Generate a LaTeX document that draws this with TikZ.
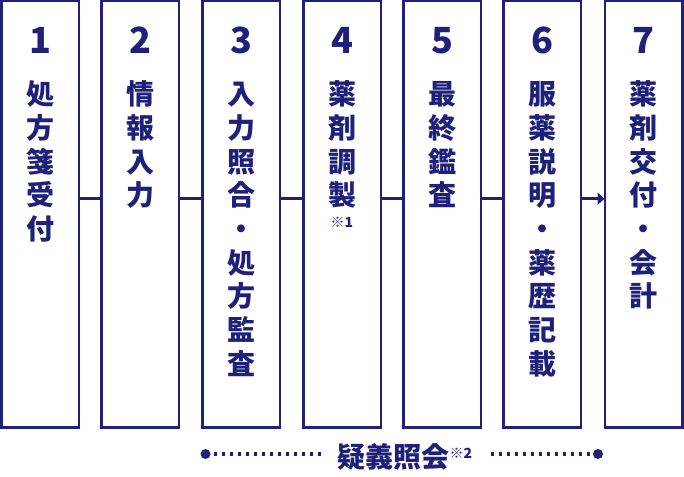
\documentclass[tikz,border=0pt]{standalone}
\usepackage{fontspec}
\setmainfont{Noto Sans CJK JP}
\usetikzlibrary{arrows.meta}
\definecolor{navy}{RGB}{30,32,122}
\begin{document}
\begin{tikzpicture}[x=1pt,y=-1pt,
  stepbox/.style={draw=navy,line width=2.5pt},
  cjk/.style={text=navy,inner sep=0pt,font=\fontsize{28}{28}\selectfont\bfseries,text height=24.64pt,text depth=3.36pt,anchor=center},
  num/.style={text=navy,inner sep=0pt,font=\fontsize{36}{36}\selectfont\bfseries,text height=26.4pt,text depth=0pt,anchor=center},
  note/.style={text=navy,inner sep=0pt,font=\fontsize{14}{14}\selectfont\bfseries,text height=10.5pt,text depth=0pt,anchor=center},
  link/.style={draw=navy,line width=3pt},
  dotline/.style={draw=navy,line width=3.4pt,dash pattern=on 3.3pt off 4.7pt,dash phase=5pt},
  enddot/.style={circle,fill=navy,inner sep=0pt,minimum size=10pt}]
\useasboundingbox (0,0) rectangle (684,476);
\foreach \i/\x in {1/40,2/140,3/241,4/342,5/442,6/542,7/643.5}{
  \path[stepbox] (\x-38.75,1.25) rectangle (\x+38.75,427.7);
  \node[draw=none,minimum width=77.5pt,minimum height=426.45pt,inner sep=0pt] (b\i) at (\x,214.5) {};
}
\foreach \i/\x/\d in {1/40/1,2/140/2,3/241/3,4/342/4,5/442/5,6/542/6,7/643.5/7}{
  \node[num] (n\i) at (\x,40) {\d};
}
\foreach \i/\x/\s in {1/40/{処,方,箋,受,付},2/140/{情,報,入,力},3/241/{入,力,照,合,・,処,方,監,査},4/342/{薬,剤,調,製},5/442/{最,終,鑑,査},6/542/{服,薬,説,明,・,薬,歴,記,載},7/643.5/{薬,剤,交,付,・,会,計}}{
  \foreach \c [count=\j from 0] in \s {
    \node[cjk] (c\i-\j) at (\x,94+33.7*\j) {\c};
  }
}
\node[note] (k1) at (342,222) {※1};
% connectors
\foreach \a/\b in {1/2,2/3,3/4,4/5,5/6}{
  \draw[link] (b\a.east |- 0,198.7) -- (b\b.west |- 0,198.7);
}
\draw[link,-{Triangle[length=7pt,width=12pt]}] (b6.east |- 0,198.7) -- (b7.west |- 0,198.7);
% query line
\node[enddot] (dl) at (205.5,454) {};
\node[enddot] (dr) at (598,454) {};
\node[text=navy,inner xsep=15pt,inner ysep=0pt,anchor=base,font=\fontsize{28}{28}\selectfont\bfseries] (q) at (405,467.6) {疑義照会\raisebox{9pt}{\fontsize{14}{14}\selectfont ※2}};
\draw[dotline] (dl) -- (q.west |- dl);
\draw[dotline] (dr) -- (q.east |- dr);
\end{tikzpicture}
\end{document}
